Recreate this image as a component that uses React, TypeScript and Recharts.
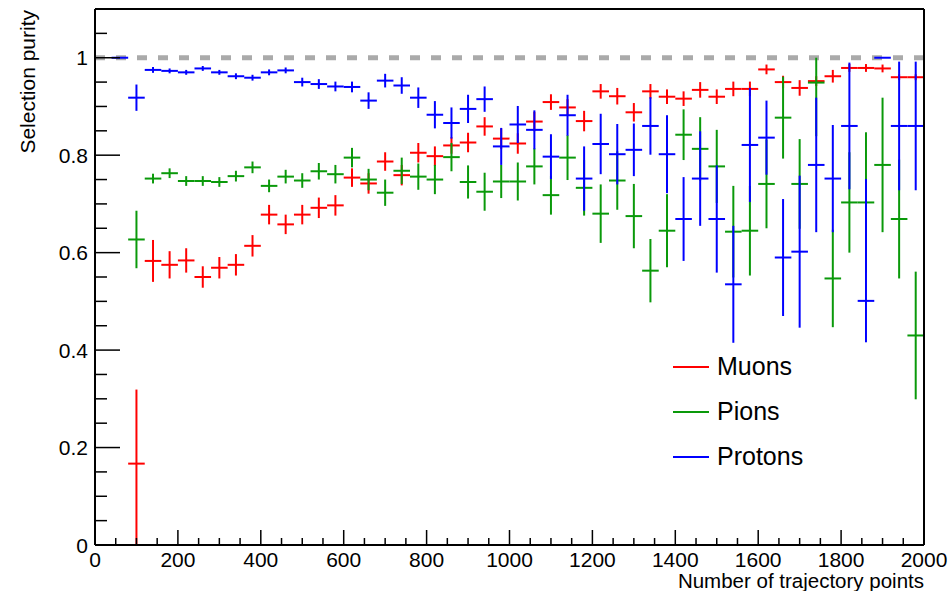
import React from 'react';
import {
  ComposedChart,
  Scatter,
  ErrorBar,
  XAxis,
  YAxis,
  ReferenceLine,
  Legend,
} from 'recharts';

// bin centres (number of trajectory points), bin width 40
const bins = [
  60, 100, 140, 180, 220, 260, 300, 340, 380, 420, 460, 500, 540, 580, 620, 660, 700,
  740, 780, 820, 860, 900, 940, 980, 1020, 1060, 1100, 1140, 1180, 1220, 1260, 1300,
  1340, 1380, 1420, 1460, 1500, 1540, 1580, 1620, 1660, 1700, 1740, 1780, 1820, 1860,
  1900, 1940, 1980,
];
const binHalfWidth = 20;

const muonPurity = [
  null, 0.167, 0.583, 0.575, 0.584, 0.55, 0.569, 0.575, 0.614, 0.678, 0.658, 0.678,
  0.692, 0.697, 0.754, 0.742, 0.787, 0.759, 0.805, 0.798, 0.82, 0.826, 0.859, 0.834,
  0.824, 0.869, 0.909, 0.898, 0.87, 0.931, 0.921, 0.888, 0.931, 0.92, 0.916, 0.934,
  0.92, 0.936, 0.936, 0.976, 0.95, 0.938, 0.952, 0.962, 0.979, 0.979, 0.978, 0.96, 0.96,
];
const muonErr = [
  null, [0.167, 0.152], 0.043, 0.028, 0.025, 0.022, 0.022, 0.022, 0.022, 0.02, 0.02,
  0.02, 0.021, 0.021, 0.019, 0.021, 0.019, 0.021, 0.02, 0.02, 0.017, 0.02, 0.019, 0.021,
  0.021, 0.02, 0.016, 0.017, 0.021, 0.015, 0.017, 0.019, 0.015, 0.015, 0.015, 0.016,
  0.015, 0.015, 0.015, 0.01, 0.013, 0.016, 0.01, 0.013, 0.008, 0.008, 0.008, 0.006, 0.006,
];

const pionPurity = [
  null, 0.627, 0.752, 0.763, 0.747, 0.747, 0.745, 0.757, 0.775, 0.737, 0.756, 0.748,
  0.767, 0.761, 0.795, 0.75, 0.723, 0.768, 0.756, 0.75, 0.796, 0.745, 0.725, 0.746,
  0.746, 0.777, 0.718, 0.795, 0.733, 0.68, 0.748, 0.675, 0.563, 0.645, 0.842, 0.813,
  0.777, 0.643, 0.645, 0.741, 0.877, 0.741, 0.949, 0.547, 0.703, 0.703, 0.78, 0.669, 0.43,
];
const pionErr = [
  null, 0.059, 0.01, 0.01, 0.01, 0.01, 0.01, 0.011, 0.012, 0.013, 0.014, 0.015, 0.017,
  0.019, 0.02, 0.022, 0.027, 0.027, 0.027, 0.03, 0.029, 0.034, 0.039, 0.034, 0.039,
  0.037, 0.04, 0.046, 0.057, 0.06, 0.06, 0.066, 0.065, 0.075, 0.052, 0.065, 0.075,
  0.094, 0.092, 0.091, 0.084, 0.092, [0.11, 0.051], 0.1, 0.103, 0.144, 0.138, 0.122, 0.131,
];

const protonPurity = [
  1.0, 0.918, 0.975, 0.973, 0.97, 0.978, 0.97, 0.962, 0.959, 0.97, 0.974, 0.95, 0.946,
  0.941, 0.94, 0.912, 0.953, 0.943, 0.918, 0.883, 0.866, 0.895, 0.915, 0.818, 0.863,
  0.852, 0.797, 0.882, 0.752, 0.823, 0.802, 0.811, 0.86, 0.802, 0.669, 0.752, 0.669,
  0.535, 0.821, 0.836, 0.59, 0.602, 0.78, 0.752, 0.86, 0.501, 1.0, 0.86, 0.86,
];
const protonErr = [
  0, 0.027, 0.006, 0.005, 0.005, 0.005, 0.005, 0.006, 0.006, 0.006, 0.006, 0.009, 0.01,
  0.01, 0.011, 0.017, 0.014, 0.017, 0.021, 0.028, 0.032, 0.029, 0.026, 0.038, 0.038,
  0.04, 0.046, 0.042, 0.066, 0.062, 0.062, 0.054, 0.059, 0.08, 0.086, 0.097, 0.11,
  0.12, 0.117, 0.076, 0.12, 0.156, 0.138, 0.11, 0.13, [0.085, 0.25], 0, 0.132, 0.132,
];

const seriesNames = ['Muons', 'Pions', 'Protons'];
const seriesColors = ['#ff0000', '#0a990a', '#0000ff'];

const xTicks = [
  0, 50, 100, 150, 200, 250, 300, 350, 400, 450, 500, 550, 600, 650, 700, 750, 800, 850,
  900, 950, 1000, 1050, 1100, 1150, 1200, 1250, 1300, 1350, 1400, 1450, 1500, 1550, 1600,
  1650, 1700, 1750, 1800, 1850, 1900, 1950, 2000,
];
const xLabels = [0, 200, 400, 600, 800, 1000, 1200, 1400, 1600, 1800, 2000];
const yTicks = [
  0, 0.05, 0.1, 0.15, 0.2, 0.25, 0.3, 0.35, 0.4, 0.45, 0.5, 0.55, 0.6, 0.65, 0.7, 0.75,
  0.8, 0.85, 0.9, 0.95, 1, 1.05,
];
const yLabels = [0, 0.2, 0.4, 0.6, 0.8, 1];

const FONT = '"Liberation Sans", Arial, Helvetica, sans-serif';
const Y_MARGIN = 6;

const toPoints = (vals, errs) =>
  bins
    .map((x, i) => ({ x, y: vals[i], ey: errs[i], ex: binHalfWidth }))
    .filter((d) => d.y !== null);

const series = [
  toPoints(muonPurity, muonErr),
  toPoints(pionPurity, pionErr),
  toPoints(protonPurity, protonErr),
];

const isIn = (list, v) => list.some((l) => Math.abs(l - v) < 1e-9);

function XTick(props) {
  const { x, y, payload } = props;
  const major = isIn(xLabels, payload.value);
  return (
    <g>
      <line x1={x} x2={x} y1={y} y2={y - (major ? 15 : 7)} stroke="#000" strokeWidth={1.5} />
      {major && (
        <text x={x} y={y + 22} textAnchor="middle" fontFamily={FONT} fontSize={21} fill="#000">
          {String(payload.value)}
        </text>
      )}
    </g>
  );
}

function YTick(props) {
  const { x, y, payload } = props;
  const major = isIn(yLabels, payload.value);
  const ax = x + Y_MARGIN;
  return (
    <g>
      <line x1={ax} x2={ax + (major ? 25 : 12)} y1={y} y2={y} stroke="#000" strokeWidth={1.5} />
      {major && (
        <text x={x - 1} y={y} dy="0.36em" textAnchor="end" fontFamily={FONT} fontSize={21} fill="#000">
          {String(payload.value)}
        </text>
      )}
    </g>
  );
}

function LegendBox() {
  return (
    <div style={{ fontFamily: FONT, fontSize: 25, color: '#000' }}>
      {seriesNames.map((name, i) => (
        <div key={name} style={{ display: 'flex', alignItems: 'center', height: 45 }}>
          <div style={{ width: 36, height: 2, background: seriesColors[i], marginLeft: 3, marginRight: 8 }} />
          <span>{name}</span>
        </div>
      ))}
    </div>
  );
}

export default function App() {
  return (
    <div style={{ position: 'absolute', left: 0, top: 0, width: 949, height: 591, background: '#fff' }}>
      <ComposedChart width={949} height={591} margin={{ top: 9, right: 25, bottom: 0, left: 0 }}>
        <XAxis
          type="number"
          dataKey="x"
          domain={[0, 2000]}
          ticks={xTicks}
          interval={0}
          height={46}
          tickSize={0}
          tickMargin={0}
          axisLine={{ stroke: '#000', strokeWidth: 2 }}
          tick={(p) => <XTick {...p} />}
          label={{
            content: (p) => {
              const vb = p.viewBox;
              return (
                <text x={vb.x + vb.width} y={vb.y + 43} textAnchor="end" fontFamily={FONT} fontSize={20.5} fill="#000">
                  Number of trajectory points
                </text>
              );
            },
          }}
        />
        <YAxis
          type="number"
          dataKey="y"
          domain={[0, 1.1]}
          ticks={yTicks}
          interval={0}
          width={95}
          tickSize={0}
          tickMargin={Y_MARGIN}
          axisLine={{ stroke: '#000', strokeWidth: 2 }}
          tick={(p) => <YTick {...p} />}
          label={{
            content: (p) => {
              const vb = p.viewBox;
              return (
                <text
                  transform={`translate(${vb.x + 35}, ${vb.y + 1}) rotate(-90)`}
                  textAnchor="end"
                  fontFamily={FONT}
                  fontSize={21}
                  fill="#000"
                >
                  Selection purity
                </text>
              );
            },
          }}
        />
        <ReferenceLine y={1} stroke="#aaaaaa" strokeWidth={5} strokeDasharray="10 11" />
        {series.map((data, i) => (
          <Scatter
            key={seriesNames[i]}
            name={seriesNames[i]}
            data={data}
            dataKey="y"
            fill={seriesColors[i]}
            shape={() => <g />}
            isAnimationActive={false}
          >
            <ErrorBar dataKey="ey" direction="y" width={0} stroke={seriesColors[i]} strokeWidth={2} isAnimationActive={false} />
            <ErrorBar dataKey="ex" direction="x" width={0} stroke={seriesColors[i]} strokeWidth={2} isAnimationActive={false} />
          </Scatter>
        ))}
        <ReferenceLine x={2000} stroke="#000" strokeWidth={2} />
        <ReferenceLine y={1.1} stroke="#000" strokeWidth={2} />
        <Legend
          layout="vertical"
          align="center"
          verticalAlign="middle"
          content={() => <LegendBox />}
          wrapperStyle={{ left: 670, top: 344, width: 200, height: 140 }}
        />
      </ComposedChart>
    </div>
  );
}
